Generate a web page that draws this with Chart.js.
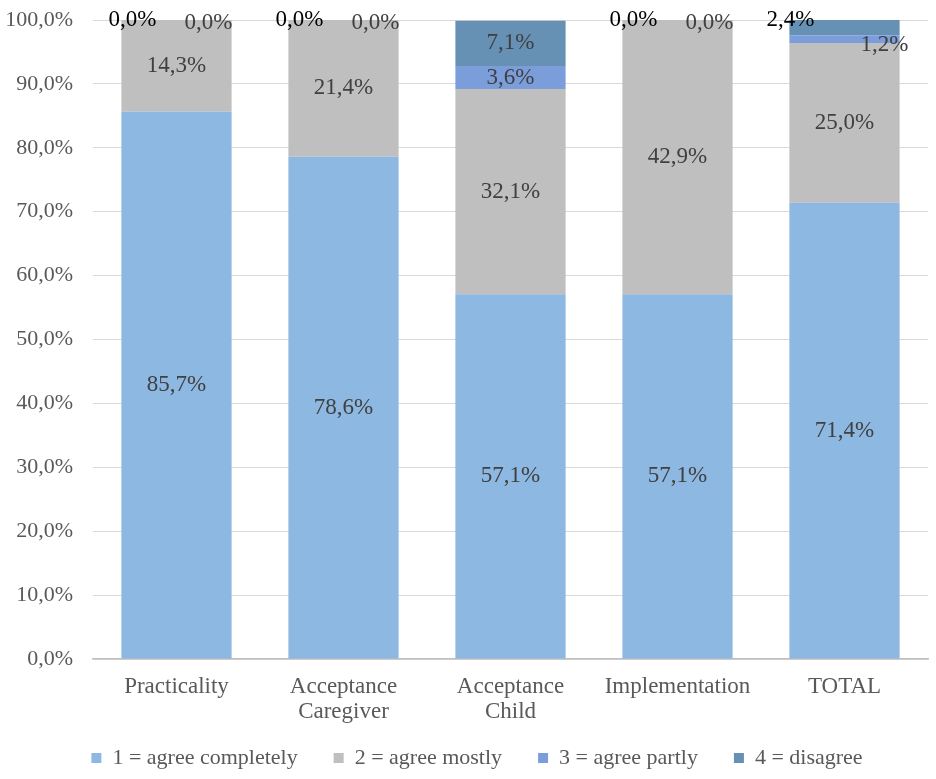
<!DOCTYPE html>
<html>
<head>
<meta charset="utf-8">
<script src="https://cdn.jsdelivr.net/npm/chart.js@4/dist/chart.umd.min.js"></script>
<style>
  html, body { margin: 0; padding: 0; background: #fff; }
  #wrap { width: 936px; height: 779px; }
</style>
</head>
<body>
<div id="wrap"><canvas id="grafico"></canvas></div>
<script>
const categorias = [['Practicality'], ['Acceptance', 'Caregiver'], ['Acceptance', 'Child'], ['Implementation'], ['TOTAL']];
const nomesSeries = ['1 = agree completely', '2 = agree mostly', '3 = agree partly', '4 = disagree'];
const concordaTotal = [85.7, 78.6, 57.1, 57.1, 71.4];
const concordaMaior = [14.3, 21.4, 32.1, 42.9, 25.0];
const concordaParte = [0.0, 0.0, 3.6, 0.0, 1.2];
const discorda = [0.0, 0.0, 7.1, 0.0, 2.4];
const yTicks = [0, 10, 20, 30, 40, 50, 60, 70, 80, 90, 100];

const cores = ['#8DB8E2', '#BFBFBF', '#7B9EDB', '#6690B4'];
const fonte = '"Liberation Serif", "Times New Roman", serif';

// onde cada rótulo fica: centro do segmento, ou fora da barra quando é pequeno/zero
const posRotulos = [
  ['c', 'c', 'c', 'c', 'c'],
  ['c', 'c', 'c', 'c', 'c'],
  ['topoDir', 'topoDir', 'c', 'topoDir', 'dir'],
  ['topoEsq', 'topoEsq', 'c', 'topoEsq', 'topoEsq']
];

const formatar = v => v.toFixed(1).replace('.', ',') + '%';

const rotulosPlugin = {
  id: 'rotulos',
  afterDatasetsDraw(chart) {
    const ctx = chart.ctx;
    const topo = chart.scales.y.getPixelForValue(100);
    ctx.save();
    ctx.font = '23px ' + fonte;
    ctx.textAlign = 'center';
    ctx.textBaseline = 'middle';
    chart.data.datasets.forEach((ds, di) => {
      const meta = chart.getDatasetMeta(di);
      meta.data.forEach((bar, i) => {
        const txt = formatar(ds.data[i]);
        const pos = posRotulos[di][i];
        let x = bar.x, y = (bar.y + bar.base) / 2;
        ctx.fillStyle = '#404040';
        if (pos === 'topoEsq') {
          x = bar.x - (i === 4 ? 54 : 44);
          y = topo;
          ctx.fillStyle = '#000';
        } else if (pos === 'topoDir') {
          x = bar.x + 32;
          y = topo + 3;
        } else if (pos === 'dir') {
          x = bar.x + 40;
          y = y + 6;
        }
        ctx.fillText(txt, x, y);
      });
    });
    ctx.restore();
  }
};

// sem recorte dos rótulos dos eixos (as caixas ficam menores que o texto)
const semRecorte = () => undefined;

new Chart(document.getElementById('grafico'), {
  type: 'bar',
  data: {
    labels: categorias,
    datasets: [concordaTotal, concordaMaior, concordaParte, discorda].map((serie, idx) => ({
      label: nomesSeries[idx],
      data: serie,
      backgroundColor: cores[idx],
      borderWidth: 0,
      categoryPercentage: 1,
      barPercentage: 0.66
    }))
  },
  options: {
    responsive: true,
    maintainAspectRatio: false,
    animation: false,
    layout: { padding: { top: 20, left: 26, right: 8, bottom: 0 } },
    scales: {
      x: {
        stacked: true,
        grid: { display: false, drawTicks: false },
        border: { color: '#BFBFBF', width: 1.5 },
        ticks: { color: '#595959', font: { family: fonte, size: 23, lineHeight: 1.1 }, padding: 15, maxRotation: 0 },
        afterFit: axis => { axis.height = 52; axis._computeLabelArea = semRecorte; }
      },
      y: {
        stacked: true,
        min: 0,
        max: 100,
        afterBuildTicks: axis => { axis.ticks = yTicks.map(v => ({ value: v })); },
        afterFit: axis => { axis.width = 67; axis.paddingTop = 0; axis.paddingBottom = 0; axis._computeLabelArea = semRecorte; },
        grid: { color: '#D9D9D9', drawTicks: false },
        border: { display: false },
        ticks: { color: '#595959', font: { family: fonte, size: 22 }, padding: 20, callback: v => formatar(v) }
      }
    },
    plugins: {
      legend: {
        position: 'bottom',
        labels: { color: '#595959', font: { family: fonte, size: 22 }, boxWidth: 10, boxHeight: 10, padding: 36 }
      },
      tooltip: { enabled: false }
    }
  },
  plugins: [rotulosPlugin]
});
</script>
</body>
</html>
